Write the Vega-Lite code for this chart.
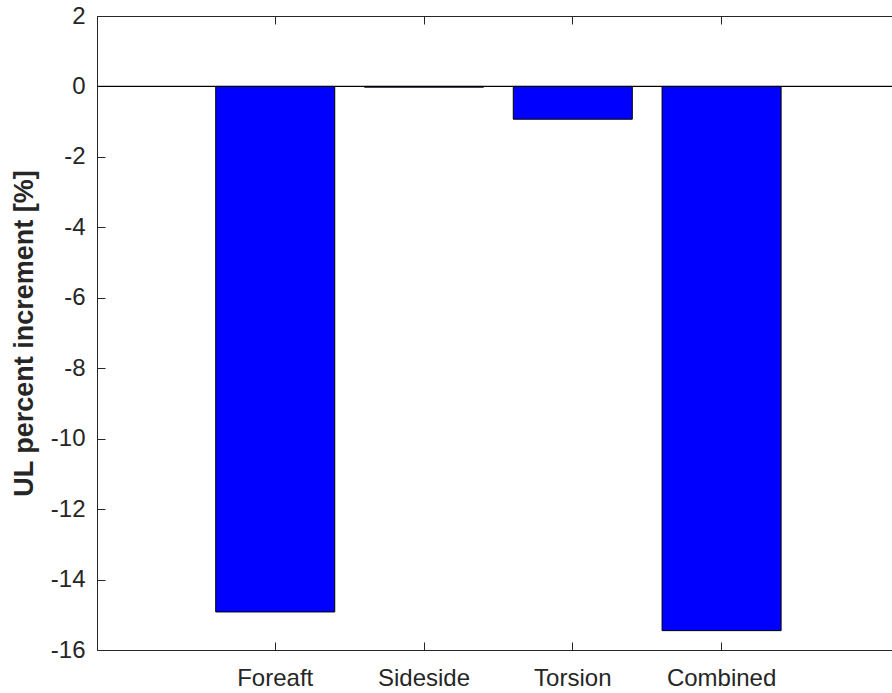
{
  "$schema": "https://vega.github.io/schema/vega-lite/v6.json",
  "width": 795,
  "height": 634,
  "autosize": {"type": "none"},
  "padding": {"left": 97, "top": 16, "right": 0, "bottom": 43},
  "background": "#ffffff",
  "config": {
    "view": {"stroke": null},
    "font": "Liberation Sans",
    "axis": {
      "domainColor": "#262626",
      "tickColor": "#262626",
      "labelColor": "#262626",
      "titleColor": "#262626",
      "grid": false,
      "domainWidth": 1,
      "tickWidth": 1,
      "labelFontSize": 24,
      "labelFont": "Liberation Sans",
      "labelFontWeight": "normal"
    }
  },
  "data": {
    "values": [
      {"load": "Foreaft", "increment": -14.92},
      {"load": "Sideside", "increment": -0.02},
      {"load": "Torsion", "increment": -0.93},
      {"load": "Combined", "increment": -15.45}
    ]
  },
  "layer": [
    {
      "mark": {"type": "bar", "color": "#0000FF", "stroke": "#000000", "strokeWidth": 1},
      "encoding": {
        "x": {
          "field": "load",
          "type": "nominal",
          "sort": null,
          "scale": {"paddingInner": 0.2, "paddingOuter": 0.7716, "align": 0.517},
          "axis": {"orient": "bottom", "labelAngle": 0, "title": null, "tickSize": -8, "labelPadding": 24}
        },
        "y": {
          "field": "increment",
          "type": "quantitative",
          "scale": {"domain": [-16, 2], "nice": false, "zero": false},
          "axis": {
            "values": [-16, -14, -12, -10, -8, -6, -4, -2, 0, 2],
            "labelExpr": "datum.value + ''",
            "labelOverlap": false,
            "title": "UL percent increment [%]",
            "titleFontSize": 27,
            "titleFontWeight": "bold",
            "titleFont": "Liberation Sans",
            "titlePadding": 12,
            "tickSize": -8,
            "labelPadding": 20
          }
        }
      }
    },
    {
      "mark": {"type": "rule", "color": "#000000", "strokeWidth": 1},
      "encoding": {"y": {"datum": 0, "type": "quantitative"}}
    },
    {
      "mark": {"type": "bar", "opacity": 0},
      "encoding": {
        "x": {
          "field": "load",
          "type": "nominal",
          "sort": null,
          "axis": {"orient": "top", "labels": false, "title": null, "tickSize": -8}
        },
        "y": {"field": "increment", "type": "quantitative"}
      }
    }
  ],
  "resolve": {"axis": {"x": "independent"}}
}
